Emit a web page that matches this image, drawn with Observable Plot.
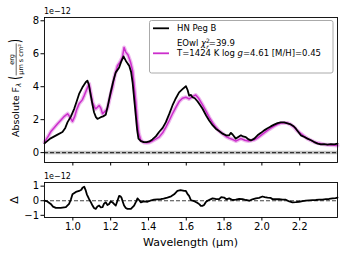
<!DOCTYPE html>
<html><head><meta charset="utf-8">
<script src="https://cdn.jsdelivr.net/npm/d3@7"></script>
<script src="https://cdn.jsdelivr.net/npm/@observablehq/plot@0.6"></script>
<style>
body{margin:0;background:white;}
#wrap{position:relative;width:345px;height:259px;font-family:"DejaVu Sans";}
#wrap svg{position:absolute;left:0;}
</style></head>
<body><div id="wrap"></div>
<script>
// observed spectrum (HN Peg B), units 1e-12
const wlData = [0.85,0.88,0.919,0.945,0.96,0.972,0.99,1.007,1.02,1.033,1.05,1.068,1.077,1.085,1.095,1.104,1.112,1.122,1.13,1.14,1.148,1.16,1.174,1.186,1.2,1.213,1.227,1.245,1.255,1.268,1.28,1.29,1.298,1.308,1.316,1.325,1.333,1.34,1.347,1.36,1.375,1.39,1.405,1.421,1.44,1.456,1.475,1.492,1.51,1.527,1.545,1.562,1.58,1.598,1.607,1.615,1.625,1.633,1.645,1.66,1.672,1.686,1.705,1.721,1.74,1.756,1.775,1.792,1.81,1.827,1.836,1.845,1.862,1.875,1.889,1.9,1.915,1.93,1.942,1.96,1.977,1.995,2.012,2.03,2.047,2.065,2.083,2.1,2.118,2.135,2.153,2.168,2.18,2.193,2.206,2.225,2.241,2.26,2.277,2.295,2.312,2.33,2.347,2.365,2.383,2.4];
const fluxData = [0.56,0.85,1.09,1.25,1.5,1.85,2.2,2.66,3.1,3.56,3.95,4.27,4.37,4.1,3.46,2.9,2.45,2.15,2.05,2.1,2.15,2.2,2.3,2.9,3.66,4.3,4.87,5.17,5.5,5.84,5.58,5.4,5.27,4.9,4.27,3.2,2.25,1.4,0.85,0.7,0.64,0.64,0.68,0.8,1.0,1.25,1.5,1.85,2.35,2.86,3.3,3.66,3.85,4.03,3.8,3.46,3.5,3.36,3.3,3.1,2.9,2.66,2.25,1.95,1.65,1.45,1.3,1.15,1.05,1.05,1.2,1.1,0.85,0.95,1.05,0.98,0.94,0.8,0.74,0.85,1.05,1.2,1.35,1.48,1.59,1.7,1.79,1.83,1.83,1.78,1.71,1.6,1.45,1.25,1.05,0.95,0.85,0.75,0.64,0.55,0.5,0.52,0.48,0.52,0.5,0.55];
// EOwl model, units 1e-12
const wlModel = [0.85,0.87,0.885,0.9,0.919,0.935,0.955,0.972,0.985,0.998,1.01,1.02,1.033,1.05,1.06,1.072,1.086,1.095,1.104,1.115,1.121,1.13,1.139,1.148,1.157,1.17,1.183,1.195,1.21,1.22,1.236,1.25,1.262,1.271,1.28,1.292,1.305,1.316,1.325,1.333,1.34,1.348,1.36,1.375,1.39,1.405,1.42,1.435,1.456,1.475,1.492,1.51,1.527,1.545,1.562,1.58,1.598,1.615,1.633,1.65,1.665,1.686,1.705,1.721,1.74,1.756,1.775,1.792,1.81,1.827,1.845,1.862,1.88,1.889,1.91,1.93,1.96,1.978,1.995,2.012,2.03,2.047,2.065,2.083,2.1,2.118,2.136,2.153,2.17,2.185,2.206,2.225,2.241,2.26,2.277,2.295,2.312,2.33,2.347,2.365,2.383,2.4];
const fluxModel = [0.64,1.0,1.3,1.5,1.75,1.95,2.2,2.36,2.15,1.89,2.2,2.6,2.96,3.2,3.46,3.8,4.17,3.6,3.06,2.75,2.66,2.75,2.86,2.7,2.36,2.5,2.68,3.3,3.96,4.6,5.27,5.5,5.78,6.38,6.1,5.92,5.5,4.97,4.0,3.06,2.0,1.2,0.74,0.62,0.6,0.62,0.7,0.8,0.94,1.2,1.55,1.95,2.36,2.75,3.1,3.3,3.36,3.26,3.4,3.5,3.3,2.9,2.5,2.15,1.8,1.55,1.3,1.15,0.98,0.88,0.8,0.7,0.8,0.85,0.75,0.7,0.78,0.9,1.05,1.2,1.35,1.48,1.61,1.72,1.79,1.8,1.79,1.7,1.55,1.35,1.15,0.98,0.85,0.74,0.64,0.58,0.54,0.5,0.48,0.46,0.44,0.43];
// residuals, units 1e-12
const wlResid = [0.85,0.865,0.883,0.895,0.91,0.936,0.963,0.98,0.99,0.998,1.016,1.033,1.045,1.051,1.06,1.067,1.074,1.086,1.095,1.104,1.112,1.121,1.13,1.139,1.148,1.157,1.165,1.174,1.183,1.192,1.2,1.21,1.22,1.227,1.236,1.245,1.252,1.257,1.265,1.271,1.28,1.289,1.307,1.324,1.335,1.342,1.35,1.36,1.375,1.395,1.41,1.43,1.465,1.48,1.5,1.52,1.536,1.553,1.57,1.589,1.598,1.607,1.615,1.624,1.633,1.645,1.66,1.67,1.677,1.685,1.694,1.703,1.712,1.725,1.739,1.755,1.774,1.785,1.8,1.812,1.827,1.845,1.862,1.88,1.898,1.915,1.933,1.95,1.968,1.985,2.003,2.015,2.03,2.045,2.056,2.075,2.091,2.11,2.127,2.145,2.162,2.18,2.197,2.215,2.232,2.25,2.268,2.285,2.303,2.32,2.339,2.355,2.374,2.39,2.4];
const resid = [0,-0.05,-0.22,-0.4,-0.49,-0.49,-0.44,-0.22,0.1,0.44,0.6,0.67,0.75,0.89,0.96,0.75,0.44,0.11,-0.1,-0.33,-0.5,-0.56,-0.4,-0.33,-0.45,-0.44,-0.2,-0.11,-0.3,-0.22,-0.05,-0.11,-0.25,-0.33,0.0,0.33,0.3,0.22,-0.1,-0.33,-0.5,-0.56,-0.56,-0.33,-0.05,0.16,0.05,-0.11,-0.05,-0.07,0.0,0.07,0.11,0.15,0.22,0.3,0.44,0.67,0.72,0.67,0.67,0.45,0.33,0.05,0.0,-0.05,-0.16,-0.25,-0.35,-0.35,-0.29,-0.1,0.0,0.08,0.16,0.12,0.11,0.25,0.22,0.1,0.16,0.05,0.07,0.12,0.11,0.05,0.0,0.1,0.16,0.2,0.29,0.25,0.22,0.2,0.11,0.1,0.11,0.08,0.07,-0.05,-0.11,-0.1,-0.07,-0.03,0.0,0.03,0.04,0.05,0.07,0.08,0.11,0.12,0.16,0.18,0.22];
const xTicks = [1.0,1.2,1.4,1.6,1.8,2.0,2.2];
const yTicksTop = [0,2,4,6,8];
const yTicksBot = [-1,0,1];
const legendLabels = ["HN Peg B","EOwl","T=1424 K log ","=4.61 [M/H]=0.45"];
const chi2 = "39.9";

const data = wlData.map((w,i)=>({w, f: fluxData[i]}));
const model = wlModel.map((w,i)=>({w, f: fluxModel[i]}));
const res = wlResid.map((w,i)=>({w, r: resid[i]}));
const FONT = "DejaVu Sans";
const MAG = "#cc2ecc";

const topPlot = Plot.plot({
  width:345, height:170, marginLeft:44, marginRight:8, marginTop:17, marginBottom:8,
  x:{domain:[0.85,2.4]}, y:{domain:[-0.6,8.2]},
  style:{fontFamily:FONT, fontSize:"10px", background:"transparent", overflow:"visible"},
  marks:[
    Plot.ruleY([0],{stroke:"#999", strokeWidth:3.5, strokeOpacity:0.6}),
    Plot.ruleY([0],{stroke:"#333", strokeDasharray:"4,2", strokeWidth:1.3}),
    Plot.line(model,{x:"w", y:"f", stroke:"#e79ce7", strokeWidth:4, strokeOpacity:0.7}),
    Plot.line(model,{x:"w", y:"f", stroke:MAG, strokeWidth:1.5}),
    Plot.line(data,{x:"w", y:"f", stroke:"black", strokeWidth:1.8}),
    Plot.frame({stroke:"black", strokeWidth:0.9}),
    Plot.axisY({ticks:yTicksTop, tickSize:3.5, tickPadding:2, label:null, fontSize:10}),
    Plot.axisX({ticks:xTicks, tickSize:3.5, tickFormat:()=>"", label:null})
  ]
});
topPlot.style.top = "0px";

const botPlot = Plot.plot({
  width:345, height:89, marginLeft:44, marginRight:8, marginTop:12, marginBottom:42,
  x:{domain:[0.85,2.4]}, y:{domain:[-1.15,1.25]},
  style:{fontFamily:FONT, fontSize:"10px", background:"transparent", overflow:"visible"},
  marks:[
    Plot.ruleY([0],{stroke:"#444", strokeDasharray:"4,2", strokeWidth:1.2}),
    Plot.line(res,{x:"w", y:"r", stroke:"black", strokeWidth:1.8}),
    Plot.frame({stroke:"black", strokeWidth:0.9}),
    Plot.axisY({ticks:yTicksBot, tickSize:3.5, tickPadding:2, label:null, fontSize:10, tickFormat:d=>d<0?"\u2212"+Math.abs(d):String(d)}),
    Plot.axisX({ticks:xTicks, tickSize:3.5, tickPadding:2, label:null, fontSize:10, tickFormat:d3.format(".1f")})
  ]
});
botPlot.style.top = "170px";

const wrap = document.getElementById("wrap");
wrap.appendChild(topPlot);
wrap.appendChild(botPlot);
// overlay svg for legend (above everything)
const ov = d3.select(wrap).append("svg").attr("width",345).attr("height",80)
  .style("position","absolute").style("left","0px").style("top","0px");

// extra annotations
const st = d3.select(topPlot);
st.append("text").attr("x",44).attr("y",13.5).attr("text-anchor","start").attr("font-size",8).attr("font-family",FONT).text("1e\u221212");

// legend
const lg = ov.append("g").attr("text-anchor","start");
lg.append("path").attr("d","M151.5,20.5 H331 Q333,20.5 333,22.5 V71 Q333,73 331,73 H151.5 Q149.5,73 149.5,71 V22.5 Q149.5,20.5 151.5,20.5 Z")
  .attr("fill","#ffffff").attr("fill-opacity",0.85).attr("stroke","#aaaaaa").attr("stroke-width",1);
lg.append("line").attr("x1",153).attr("x2",169).attr("y1",28.3).attr("y2",28.3).attr("stroke","black").attr("stroke-width",1.8);
lg.append("line").attr("x1",153).attr("x2",169).attr("y1",53.3).attr("y2",53.3).attr("stroke",MAG).attr("stroke-width",1.8);
const lt = (y)=>lg.append("text").attr("x",177).attr("y",y).attr("text-anchor","start").attr("font-size",8.5).attr("font-family",FONT);
lt(31.3).text(legendLabels[0]);
const t2 = lt(46);
t2.append("tspan").text(legendLabels[1]+" ");
t2.append("tspan").attr("font-style","italic").text("\u03c7");
t2.append("tspan").attr("font-size",6).attr("dy",-3.5).text("2");
t2.append("tspan").attr("font-size",6).attr("dx",-3.6).attr("dy",6).attr("font-style","italic").text("r");
t2.append("tspan").attr("dy",-2.5).text("="+chi2);
const t3 = lt(56.3);
t3.append("tspan").text(legendLabels[2]);
t3.append("tspan").attr("font-style","italic").text("g");
t3.append("tspan").text(legendLabels[3]);

// top y label with fraction
const yl = st.append("g").attr("font-family",FONT).attr("text-anchor","start");
const inner = yl.append("g");
const m1 = inner.append("text").attr("x",0).attr("y",3.2).attr("text-anchor","start").attr("font-size",9.5);
m1.append("tspan").text("Absolute F");
m1.append("tspan").attr("font-size",7).attr("dy",2).attr("font-style","italic").text("\u03bb");
m1.append("tspan").attr("dy",-2).text(" ");
const w0 = m1.node().getComputedTextLength();
const op = inner.append("text").attr("x",w0).attr("y",0).attr("text-anchor","start").attr("font-size",10)
  .attr("transform",`translate(0,3.6) scale(1,1.55)`).text("(");
const w1 = w0 + op.node().getComputedTextLength() + 0.5;
const num = inner.append("text").attr("font-size",6.5).attr("text-anchor","middle").attr("y",-2).text("erg");
const den = inner.append("text").attr("font-size",6.5).attr("text-anchor","middle").attr("y",7).text("\u00b5m s cm\u00b2");
const fw = Math.max(num.node().getComputedTextLength(), den.node().getComputedTextLength()) + 1.5;
const fc = w1 + fw/2;
num.attr("x",fc); den.attr("x",fc);
inner.append("line").attr("x1",w1).attr("x2",w1+fw).attr("y1",0.2).attr("y2",0.2).attr("stroke","black").attr("stroke-width",0.6);
const cp = inner.append("text").attr("x",w1+fw+0.5).attr("y",0).attr("text-anchor","start").attr("font-size",10)
  .attr("transform",`translate(0,3.6) scale(1,1.55)`).text(")");
const W = w1 + fw + 0.5 + cp.node().getComputedTextLength();
inner.attr("transform",`translate(${-W/2},0)`);
yl.attr("transform","translate(16,88) rotate(-90)");

const sb = d3.select(botPlot);
sb.append("text").attr("x",44).attr("y",9).attr("text-anchor","start").attr("font-size",8).attr("font-family",FONT).text("1e\u221212");
sb.append("text").attr("transform","translate(18,30) rotate(-90)").attr("text-anchor","middle")
  .attr("font-size",11).attr("font-family",FONT).text("\u0394");
sb.append("text").attr("x",190.5).attr("y",75.5).attr("text-anchor","middle")
  .attr("font-size",11).attr("font-family",FONT).text("Wavelength (\u00b5m)");
</script></body></html>
